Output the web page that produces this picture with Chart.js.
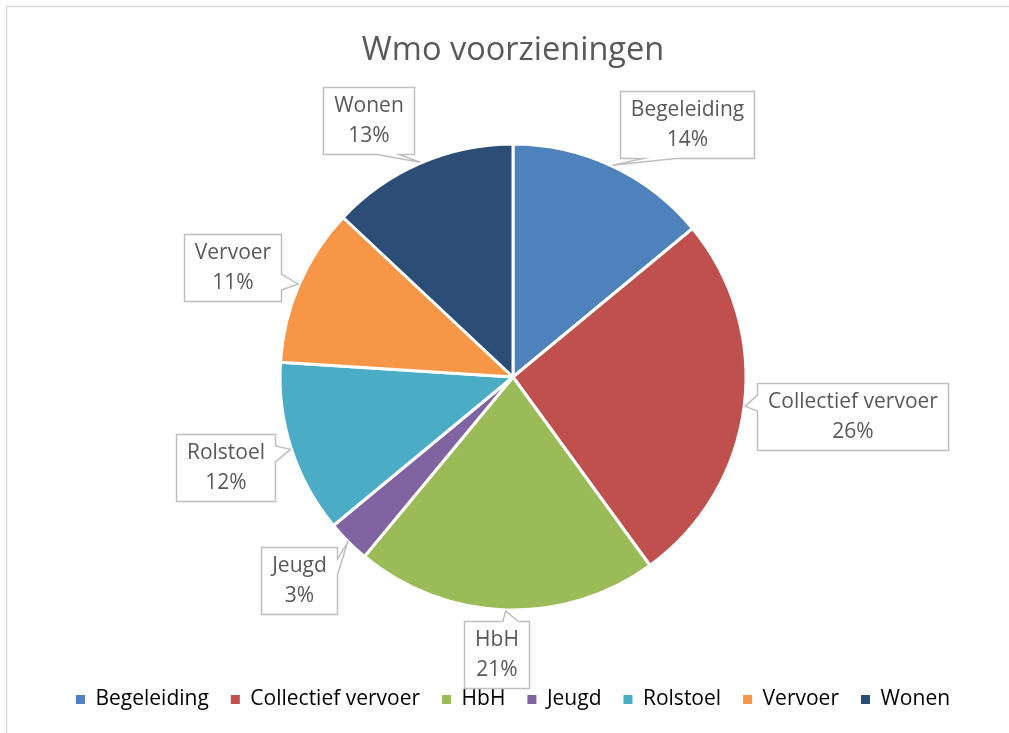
<!DOCTYPE html>
<html>
<head>
<meta charset="utf-8">
<title>Wmo voorzieningen</title>
<script src="https://cdn.jsdelivr.net/npm/chart.js@4/dist/chart.umd.min.js"></script>
<style>
  html, body { margin: 0; padding: 0; background: #fff; }
  #wrap { width: 1009px; height: 733px; }
</style>
</head>
<body>
<div id="wrap"><canvas id="wmoChart" width="1009" height="733"></canvas></div>
<script>
// Data (shares in %)
const categories = ['Begeleiding', 'Collectief vervoer', 'HbH', 'Jeugd', 'Rolstoel', 'Vervoer', 'Wonen'];
const shares = [14, 26, 21, 3, 12, 11, 13];
const sliceColors = ['#4F81BD', '#C0504D', '#9BBB59', '#8064A2', '#4BACC6', '#F79646', '#2C4D75'];

// small turn (degrees) of each callout box away from the slice middle, like Excel does
const labelShift = [9.4, -0.6, 1.5, 1.4, 0.6, -2.1, -6];

const textGrey = '#595959';
const fontFamily = '"Open Sans", "DejaVu Sans", sans-serif';

// white background + the thin frame of the chart object
const framePlugin = {
  id: 'frame',
  beforeDraw(chart) {
    const ctx = chart.ctx;
    ctx.save();
    ctx.fillStyle = '#fff';
    ctx.fillRect(0, 0, chart.width, chart.height);
    ctx.strokeStyle = '#d9d9d9';
    ctx.lineWidth = 1.5;
    ctx.beginPath();
    ctx.moveTo(6.5, chart.height);
    ctx.lineTo(6.5, 6.5);
    ctx.lineTo(chart.width, 6.5);
    ctx.stroke();
    ctx.restore();
  }
};

// Excel style data callouts: box outside the pie with a wedge pointing at the slice
const calloutPlugin = {
  id: 'callouts',
  afterDatasetsDraw(chart) {
    const ctx = chart.ctx;
    const meta = chart.getDatasetMeta(0);
    const data = chart.data.datasets[0].data;
    const total = data.reduce((a, b) => a + b, 0);
    const lineH = 30;
    const gap = 11;

    ctx.save();
    ctx.font = '21px ' + fontFamily;

    meta.data.forEach((arc, i) => {
      const p = arc.getProps(['x', 'y', 'startAngle', 'endAngle', 'outerRadius'], true);
      const mid = (p.startAngle + p.endAngle) / 2;
      const R = p.outerRadius;
      const tipX = p.x + Math.cos(mid) * (R + 1);
      const tipY = p.y + Math.sin(mid) * (R + 1);

      const lines = [categories[i], Math.round(data[i] / total * 100) + '%'];
      const textW = Math.max(...lines.map(t => ctx.measureText(t).width));
      const w = Math.round(textW + 21);
      const h = lineH * 2 + 7;

      // push the box outwards until it clears the pie
      const dir = mid + labelShift[i] * Math.PI / 180;
      let d = R;
      let cx, cy;
      for (; d < R + 400; d += 0.5) {
        cx = p.x + Math.cos(dir) * d;
        cy = p.y + Math.sin(dir) * d;
        const nx = Math.min(Math.max(p.x, cx - w / 2), cx + w / 2);
        const ny = Math.min(Math.max(p.y, cy - h / 2), cy + h / 2);
        if (Math.hypot(nx - p.x, ny - p.y) >= R + gap) break;
      }
      const left = Math.round(cx - w / 2) + 0.5;
      const top = Math.round(cy - h / 2) + 0.5;
      const right = left + w;
      const bottom = top + h;

      // which edge carries the wedge
      const rx = (tipX - cx) / (w / 2);
      const ry = (tipY - cy) / (h / 2);
      const pts = [];
      if (Math.abs(ry) >= Math.abs(rx)) {
        const a = tipX < cx ? left + 0.17 * w : left + 0.59 * w;
        const b = tipX < cx ? left + 0.41 * w : left + 0.83 * w;
        if (ry < 0) {
          pts.push([left, top], [a, top], [tipX, tipY], [b, top], [right, top], [right, bottom], [left, bottom]);
        } else {
          pts.push([left, top], [right, top], [right, bottom], [b, bottom], [tipX, tipY], [a, bottom], [left, bottom]);
        }
      } else {
        const a = tipY < cy ? top + 0.17 * h : top + 0.59 * h;
        const b = tipY < cy ? top + 0.41 * h : top + 0.83 * h;
        if (rx > 0) {
          pts.push([left, top], [right, top], [right, a], [tipX, tipY], [right, b], [right, bottom], [left, bottom]);
        } else {
          pts.push([left, top], [right, top], [right, bottom], [left, bottom], [left, b], [tipX, tipY], [left, a]);
        }
      }

      ctx.beginPath();
      pts.forEach((pt, k) => k === 0 ? ctx.moveTo(pt[0], pt[1]) : ctx.lineTo(pt[0], pt[1]));
      ctx.closePath();
      ctx.fillStyle = '#fff';
      ctx.fill();
      ctx.strokeStyle = '#bfbfbf';
      ctx.lineWidth = 1.5;
      ctx.stroke();

      ctx.fillStyle = textGrey;
      ctx.textAlign = 'center';
      ctx.textBaseline = 'middle';
      const cxText = (left + right) / 2;
      const cyText = (top + bottom) / 2;
      ctx.fillText(lines[0], cxText, cyText - lineH / 2);
      ctx.fillText(lines[1], cxText, cyText + lineH / 2);
    });
    ctx.restore();
  }
};

const ctx = document.getElementById('wmoChart');
new Chart(ctx, {
  type: 'pie',
  data: {
    labels: categories,
    datasets: [{
      data: shares,
      backgroundColor: sliceColors,
      borderColor: '#fff',
      borderWidth: 3,
      radius: 233
    }]
  },
  options: {
    responsive: false,
    animation: false,
    events: [],
    layout: {
      padding: { left: 17, right: 0, top: 0, bottom: 13 }
    },
    plugins: {
      title: {
        display: true,
        text: 'Wmo voorzieningen',
        color: textGrey,
        font: { family: fontFamily, size: 32.5, weight: 'normal', lineHeight: 1.2 },
        padding: { top: 31, bottom: 17 }
      },
      legend: {
        position: 'bottom',
        labels: {
          color: textGrey,
          font: { family: fontFamily, size: 21 },
          boxWidth: 9,
          boxHeight: 9,
          padding: 22,
          generateLabels(chart) {
            return chart.data.labels.map((label, i) => ({
              text: label,
              fillStyle: sliceColors[i],
              strokeStyle: sliceColors[i],
              lineWidth: 0,
              hidden: false,
              index: i
            }));
          }
        }
      },
      tooltip: { enabled: false }
    }
  },
  plugins: [framePlugin, calloutPlugin]
});
</script>
</body>
</html>
